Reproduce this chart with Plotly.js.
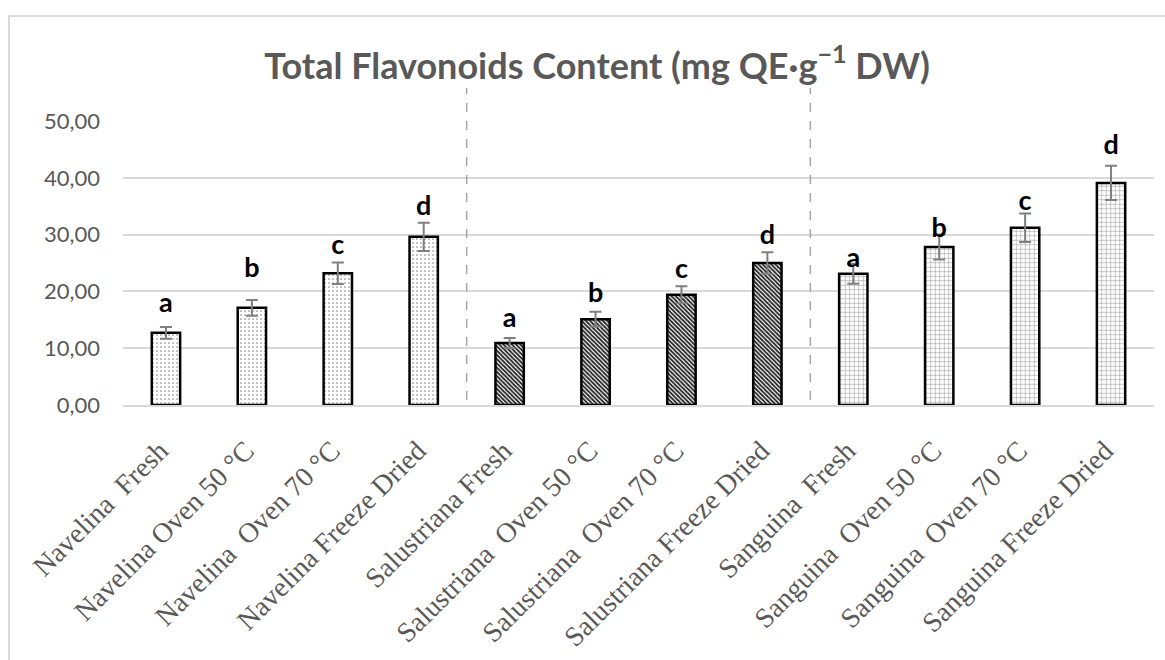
<!DOCTYPE html>
<html>
<head>
<meta charset="utf-8">
<script src="https://cdn.plot.ly/plotly-3.0.1.min.js"></script>
<style>
  html, body { margin: 0; padding: 0; background: #fff; }
  #chart { width: 1165px; height: 660px; }
</style>
</head>
<body>
<div id="chart"></div>
<script>
// ---- data ----
const navelinaCats = ["Navelina\u00a0 Fresh", "Navelina Oven 50 °C", "Navelina\u00a0 Oven 70 °C", "Navelina Freeze Dried"];
const salustrianaCats = ["Salustriana Fresh", "Salustriana\u00a0 Oven 50 °C", "Salustriana\u00a0 Oven 70 °C", "Salustriana Freeze Dried"];
const sanguinaCats = ["Sanguina\u00a0 Fresh", "Sanguina\u00a0 Oven 50 °C", "Sanguina\u00a0 Oven 70 °C", "Sanguina Freeze Dried"];

const navelinaValues = [12.7, 17.1, 23.2, 29.6];
const salustrianaValues = [10.9, 15.1, 19.4, 25.0];
const sanguinaValues = [23.1, 27.8, 31.2, 39.1];

const navelinaErrors = [1.05, 1.4, 1.9, 2.5];
const salustrianaErrors = [0.9, 1.3, 1.5, 1.9];
const sanguinaErrors = [1.75, 2.2, 2.5, 3.0];

const letters = ["a", "b", "c", "d"];
const navelinaLetterY = [17.6, 23.8, 27.8, 34.7];
const salustrianaLetterY = [15.0, 19.4, 23.6, 29.6];
const sanguinaLetterY = [25.5, 30.8, 35.6, 45.4];

const yTicks = [0, 10, 20, 30, 40, 50];

// ---- styles ----
const grey = "#595959";
function barTrace(cats, vals, errs, pattern) {
  return {
    type: "bar",
    x: cats,
    y: vals,
    width: 0.33,
    marker: {
      color: "#ffffff",
      line: { color: "#000000", width: 2.5 },
      pattern: pattern
    },
    error_y: { type: "data", array: errs, visible: true, color: "#7f7f7f", thickness: 2, width: 6 },
    hoverinfo: "x+y",
    showlegend: false
  };
}
function letterTrace(cats, ys) {
  return {
    type: "scatter",
    mode: "text",
    x: cats,
    y: ys,
    text: letters,
    textposition: "middle center",
    textfont: { family: "Lato, 'Open Sans', sans-serif", size: 27, color: "#000000", weight: "bold" },
    hoverinfo: "skip",
    showlegend: false
  };
}

const traces = [
  barTrace(navelinaCats, navelinaValues, navelinaErrors,
    { shape: ".", bgcolor: "#ffffff", fgcolor: "#8c8c8c", size: 4, solidity: 0.15 }),
  barTrace(salustrianaCats, salustrianaValues, salustrianaErrors,
    { shape: "\\", bgcolor: "#ffffff", fgcolor: "#222222", size: 3, solidity: 0.6 }),
  barTrace(sanguinaCats, sanguinaValues, sanguinaErrors,
    { shape: "+", bgcolor: "#ffffff", fgcolor: "#a0a0a0", size: 4.5, solidity: 0.25 }),
  letterTrace(navelinaCats, navelinaLetterY),
  letterTrace(salustrianaCats, salustrianaLetterY),
  letterTrace(sanguinaCats, sanguinaLetterY)
];

const allCats = navelinaCats.concat(salustrianaCats, sanguinaCats);

const layout = {
  width: 1165,
  height: 660,
  margin: { l: 123, r: 11, t: 121, b: 255, pad: 0 },
  paper_bgcolor: "#ffffff",
  plot_bgcolor: "#ffffff",
  barmode: "overlay",
  separators: ",.",
  title: {
    text: "<b>Total Flavonoids Content (mg QE·g<sup>−1</sup> DW)</b>",
    font: { family: "Lato, 'Open Sans', sans-serif", size: 36, color: grey },
    x: 0.5125, xref: "container", xanchor: "center",
    y: 0.9, yref: "container", yanchor: "middle"
  },
  xaxis: {
    type: "category",
    categoryorder: "array",
    categoryarray: allCats,
    range: [-0.5, 11.5],
    tickangle: -45,
    tickfont: { family: "'Liberation Serif', 'DejaVu Serif', serif", size: 28, color: grey },
    showgrid: false,
    showline: true,
    linecolor: "#d9d9d9",
    linewidth: 2,
    ticks: "",
    ticklabelshift: -6,
    ticklabelstandoff: 16,
    fixedrange: true
  },
  yaxis: {
    range: [0, 50],
    tickvals: yTicks,
    tickformat: ".2f",
    tickfont: { family: "Lato, 'Open Sans', sans-serif", size: 22, color: grey },
    showgrid: true,
    gridcolor: "#d9d9d9",
    gridwidth: 2,
    zeroline: false,
    showline: false,
    ticks: "",
    ticklabelstandoff: 22,
    fixedrange: true
  },
  shapes: [
    { type: "line", xref: "x", yref: "paper", x0: 3.5, x1: 3.5, y0: 0.018, y1: 1.116,
      line: { color: "#a6a6a6", width: 1.5, dash: "dash" } },
    { type: "line", xref: "x", yref: "paper", x0: 7.5, x1: 7.5, y0: 0.018, y1: 1.116,
      line: { color: "#a6a6a6", width: 1.5, dash: "dash" } },
    { type: "rect", xref: "paper", yref: "paper", x0: -0.1106, x1: 1.05, y0: -1.2, y1: 1.3697,
      line: { color: "#d9d9d9", width: 2 }, fillcolor: "rgba(0,0,0,0)", layer: "below" }
  ]
};

Plotly.newPlot("chart", traces, layout, { displayModeBar: false, staticPlot: false });
</script>
</body>
</html>
